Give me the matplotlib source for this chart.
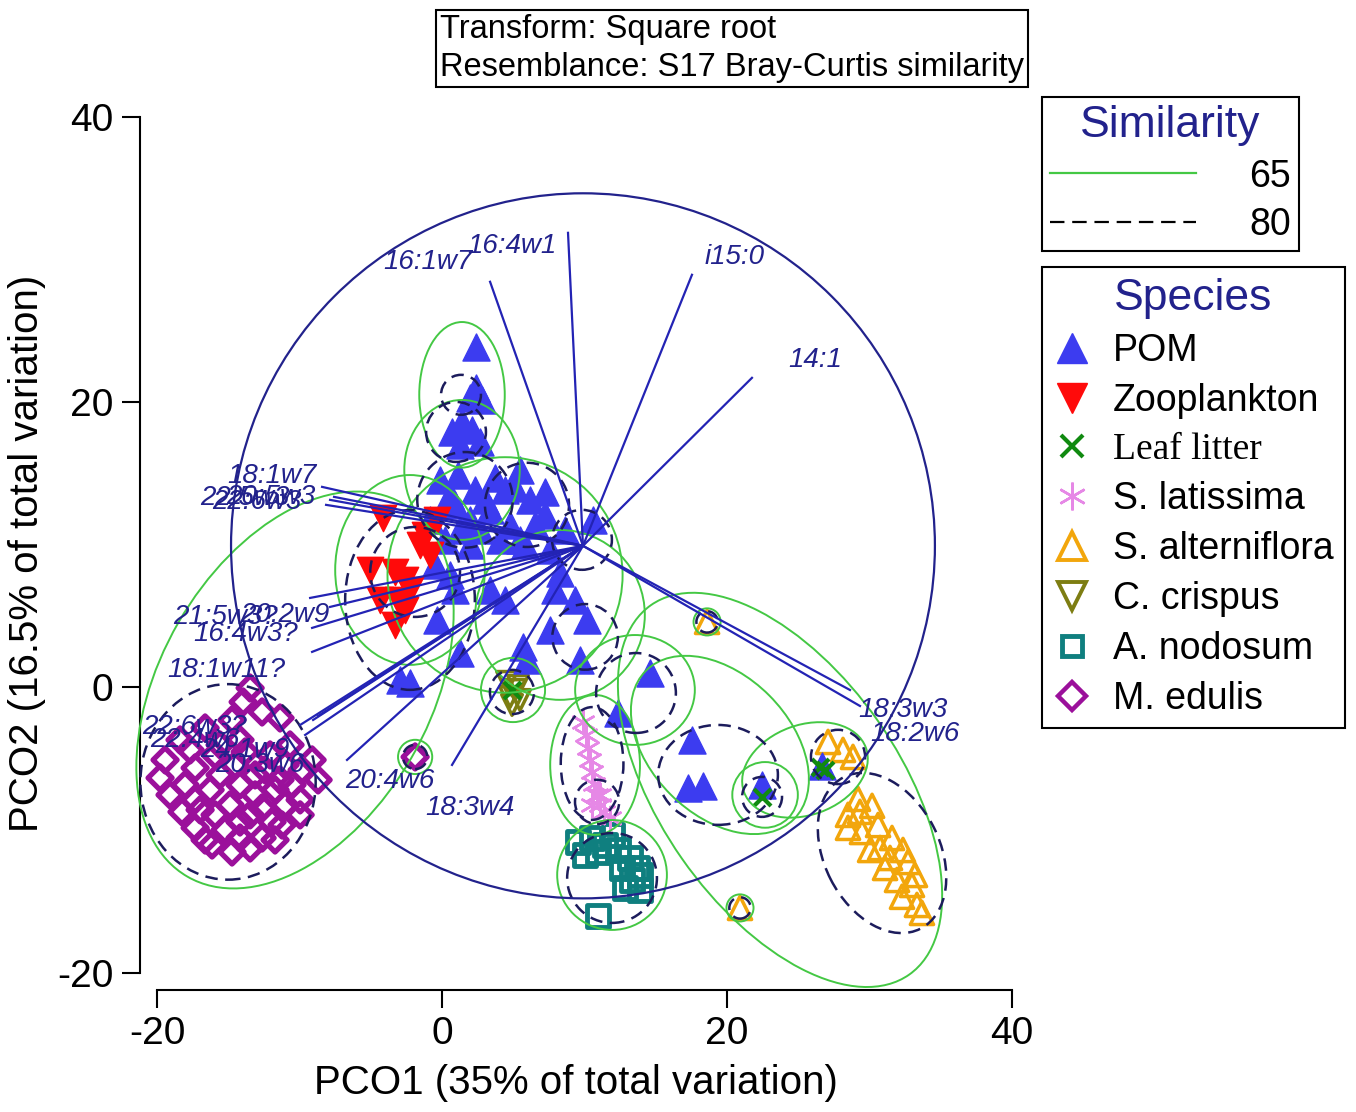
import matplotlib
matplotlib.use('Agg')
import matplotlib.pyplot as plt
from matplotlib.patches import Ellipse
from matplotlib.lines import Line2D

plt.rcParams['font.family'] = ['Liberation Sans', 'DejaVu Sans']
plt.rcParams['axes.unicode_minus'] = False

# ---- sample scores (PCO1, PCO2) ----
pom_x = [2.39, 2.39, 1.96, 2.81, 1.40, 0.70, 2.11, 1.26, 2.67,
         -0.14, 1.12, 2.32, 3.72, 5.12, 6.18, 7.23, 0.91, 1.96, 3.37, 4.77,
         -0.84, 0.21, 1.96, 4.07, 5.82, 7.58, 8.28, 10.6, 7.23, 5.47,
         0.56, 3.02, 4.42, 6.53, 2.67, 1.26, 5.47, 8.63, 7.93, 9.33, -0.49, 0.56,
         7.58, 5.68, 5.96, 10.18, 9.68, 1.26, -0.35, 0.91, -2.25, -2.95,
         14.6, 12.35, 17.54, 17.26, 18.32, 22.46, 26.67, 4.42, 3.37]
pom_y = [23.86, 20.99, 20.29, 20.15, 18.6, 17.9, 18.04, 17.0, 17.2,
         14.54, 14.9, 13.84, 14.68, 13.98, 13.14, 12.09, 12.79, 11.74, 12.44, 11.39,
         11.74, 10.34, 9.99, 10.34, 9.99, 9.64, 8.02, 11.74, 13.7, 15.24,
         13.49, 13.14, 13.84, 11.39, 11.04, 11.04, 10.34, 11.04, 6.83, 6.13, 8.58, 7.88,
         4.03, 2.84, 1.93, 4.73, 1.93, 2.42, 4.73, 6.83, 0.32, 0.53,
         1.02, -1.79, -3.68, -7.04, -6.9, -6.83, -5.5, 6.13, 6.83]

zoo_x = [-4.14, -5.05, -3.30, -2.60, -1.54, -0.84, -3.09, -2.25, -3.30, -2.60, -4.35, -0.35, -1.19]
zoo_y = [11.88, 8.23, 8.09, 7.53, 9.99, 9.29, 6.13, 6.83, 4.38, 5.43, 6.13, 11.74, 10.69]

leaf_x = [22.46, 26.53, 26.88, 4.91]
leaf_y = [-7.67, -5.57, -5.78, -0.18]

lat_x = [9.89, 10.11, 10.25, 10.39, 10.53, 10.67, 10.88, 11.09, 11.37, 11.79, 10.53, 11.09]
lat_y = [-2.42, -3.33, -4.24, -5.08, -5.92, -6.76, -7.53, -8.23, -8.72, -9.15, -8.23, -7.53]

alt_x = [29.19, 30.18, 28.49, 30.6, 29.47, 31.58, 32.35, 30.04, 32.7, 31.09,
         31.93, 32.98, 32.28, 33.33, 33.68, 28.49, 30.74, 31.44, 29.33, 33.19,
         27.09, 28.14, 28.84, 18.6, 20.91]
alt_y = [-7.81, -8.3, -8.93, -9.64, -10.13, -10.55, -11.39, -11.39, -12.23, -12.65,
         -13.49, -13.84, -14.67, -15.24, -15.8, -9.84, -11.25, -11.95, -8.72, -13.14,
         -3.82, -4.38, -4.87, 4.59, -15.45]

cri_x = [4.56, 5.12, 5.47, 4.77, 5.33, 4.91]
cri_y = [0.39, -0.18, -0.88, -0.67, 0.11, -1.23]

nod_x = [9.54, 10.53, 11.44, 12.35, 13.19, 13.68, 13.33, 12.84, 13.89, 10.95, 11.93, 10.04, 13.89, 10.95, 12.63]
nod_y = [-10.83, -10.55, -11.04, -11.39, -11.95, -12.65, -13.49, -14.05, -13.14, -11.53, -10.34, -11.74, -14.19, -16.01, -12.65]

edu_x = [-13.47, -13.96, -12.63, -11.37, -14.74, -16.63, -18.39, -19.44, -19.79, -19.09,
         -18.25, -17.33, -16.14, -14.74, -13.47, -12.63, -11.93, -11.02, -10.53, -9.82,
         -9.12, -8.70, -9.96, -11.72, -13.12, -14.53, -15.93, -17.33, -16.28, -14.88,
         -13.47, -15.23, -16.98, -12.07, -10.67, -14.18, -17.68, -13.12, -11.72, -14.18,
         -15.58, -13.82, -12.42, -11.02, -11.37, -14.18, -15.58, -18.04, -17.33, -15.93,
         -14.18, -12.63, -11.23, -9.96, -16.63, -1.89]
edu_y = [-0.04, -1.02, -1.72, -2.14, -2.28, -2.84, -3.68, -5.08, -6.34, -7.53,
         -8.72, -9.84, -11.04, -11.53, -11.25, -10.55, -9.43, -8.23, -6.83, -5.78,
         -5.08, -6.48, -7.88, -7.18, -6.13, -5.43, -4.73, -5.64, -7.18, -8.23,
         -8.93, -9.99, -8.58, -4.73, -4.03, -3.68, -4.38, -7.53, -10.69, -10.55,
         -4.03, -4.52, -5.78, -5.43, -6.48, -6.83, -6.13, -6.83, -7.88, -8.93,
         -9.43, -8.44, -9.64, -8.93, -10.69, -4.87]

# ---- similarity contours (centre x, centre y, width, height, angle) ----
s65_x = [1.40, 1.40, 4.42, -2.25, -10.32, -1.89, 4.98, 8.28, 10.74, 11.93, 13.54, 19.5, 22.67, 25.47, 23.72, 18.6, 20.91]
s65_y = [20.5, 15.24, 7.88, 8.23, -0.18, -4.87, -0.18, 5.08, -5.43, -13.14, -0.18, -4.03, -7.53, -5.78, -7.18, 4.59, -15.45]
s65_w = [6.0, 8.1, 16.5, 10.5, 30.2, 2.4, 4.5, 11.9, 6.3, 7.7, 8.4, 14.7, 4.6, 9.1, 31.6, 1.9, 1.9]
s65_h = [10.2, 9.8, 16.5, 13.3, 18.9, 2.4, 4.5, 11.9, 9.8, 7.7, 7.7, 9.8, 4.6, 6.3, 16.8, 1.9, 1.9]
s65_a = [0, 0, 0, 0, 60, 0, 0, 0, 0, 0, 0, -45, 0, 20, -55, 0, 0]

s80_x = [1.33, 0.98, 1.61, 5.96, 9.82, -2.25, -1.89, -15.02, -1.89, 4.91, 10.53, 10.88, 11.93, 13.61, 19.37, 22.46, 27.79, 30.88, 10.04, 18.6, 20.91]
s80_y = [20.5, 17.9, 13.14, 12.79, 10.34, 6.13, 8.09, -6.62, -4.87, -0.32, -5.33, -8.02, -13.35, -0.39, -6.13, -7.67, -4.87, -11.6, 3.54, 4.59, -15.45]
s80_w = [2.8, 4.2, 6.7, 5.9, 4.2, 9.1, 6.3, 12.3, 1.7, 3.1, 4.4, 3.1, 6.3, 5.6, 8.4, 2.8, 3.8, 11.9, 4.6, 1.5, 1.5]
s80_h = [2.8, 4.2, 6.7, 5.9, 4.2, 12.6, 6.3, 13.7, 1.7, 3.1, 7.9, 3.1, 6.3, 5.6, 7.0, 2.8, 3.8, 8.1, 4.6, 1.5, 1.5]
s80_a = [0, 0, 0, 0, 0, 0, 0, 0, 0, 0, 0, 0, 0, 0, 0, 0, 0, -63, 0, 0, 0]

# ---- vector overlay ----
vec_origin = (9.89, 9.92)
vec_radius = 24.7
vec_names = ['16:4w1', '16:1w7', 'i15:0', '14:1', '18:3w3', '18:2w6', '18:1w7',
             '22:5w3', '22:6w3', '20:5w3', '21:5w3?', '20:2w9', '16:4w3?', '18:1w11?',
             '22:6w3?', '22:4w6', '24:1w9', '20:3w6', '20:4w6', '18:3w4']
vec_x = [8.84, 3.37, 17.54, 21.75, 28.63, 29.33, -8.42, -7.86, -8.14, -7.58,
         -9.26, -7.86, -9.12, -9.12, -8.70, -9.05, -9.96, -9.61, -6.67, 0.70]
vec_y = [31.85, 28.42, 28.91, 21.69, -0.18, -1.30, 14.05, 13.14, 12.79, 13.35,
         6.27, 5.64, 4.17, 2.49, -2.00, -2.28, -2.63, -3.33, -5.08, -5.43]
lab_x = [4.91, -0.98, 20.56, 26.18, 29.19, 30.04, -11.93, -16.98, -16.14, -15.16,
         -18.88, -14.18, -17.47, -19.3, -21.05, -20.49, -16.98, -15.93, -6.81, 1.96]
lab_y = [30.94, 29.82, 30.17, 22.95, -1.58, -3.26, 14.82, 13.28, 13.0, 13.35,
         4.94, 5.08, 3.75, 1.23, -2.77, -3.68, -4.38, -5.43, -6.55, -8.44]
lab_ha = ['center', 'center', 'center', 'center', 'left', 'left', 'center',
          'left', 'left', 'left', 'left', 'left', 'left', 'left',
          'left', 'left', 'left', 'left', 'left', 'center']

navy = '#22228c'
green = '#44c844'

fig = plt.figure(figsize=(13.56, 11.12), dpi=100)
fig.set_facecolor('white')
ax = fig.add_axes([0.10324, 0.10971, 0.64307, 0.78552])
ax.set_xlim(-21.2, 40)
ax.set_ylim(-21.2, 40)

# species groups
ax.scatter(edu_x, edu_y, marker='D', s=150, facecolors='none', edgecolors='#9b109b', linewidths=3.8, zorder=2)
ax.scatter(nod_x, nod_y, marker='s', s=250, facecolors='none', edgecolors='#0f7f7f', linewidths=3.5, zorder=2)
ax.scatter(alt_x, alt_y, marker='^', s=280, facecolors='none', edgecolors='#f2a60c', linewidths=2.5, zorder=2)
ax.scatter(cri_x, cri_y, marker='v', s=220, facecolors='none', edgecolors='#7d7d12', linewidths=2.5, zorder=2)
ax.scatter(lat_x, lat_y, marker=(6, 2, 0), s=280, color='#e688e6', linewidths=1.8, zorder=2)
ax.scatter(pom_x, pom_y, marker='^', s=380, color='#3c3cf0', edgecolors='#3c3cf0', linewidths=1, zorder=2)
ax.scatter(zoo_x, zoo_y, marker='v', s=360, color='#ff0a0a', edgecolors='#ff0a0a', linewidths=1, zorder=2.1)
ax.scatter(leaf_x, leaf_y, marker='x', s=150, color='#108a10', linewidths=3, zorder=2.2)

# similarity contours
for x, y, w, h, a in zip(s65_x, s65_y, s65_w, s65_h, s65_a):
    ax.add_patch(Ellipse((x, y), w, h, angle=a, fill=False, ec=green, lw=1.4, zorder=3, clip_on=False))
for x, y, w, h, a in zip(s80_x, s80_y, s80_w, s80_h, s80_a):
    ax.add_patch(Ellipse((x, y), w, h, angle=a, fill=False, ec='#1c1c5c', lw=1.8,
                         ls=(0, (5, 3)), zorder=3, clip_on=False))

# vectors and circle
ax.add_patch(Ellipse(vec_origin, 2 * vec_radius, 2 * vec_radius, fill=False, ec=navy, lw=1.6, zorder=4))
for name, x, y, lx, ly, ha in zip(vec_names, vec_x, vec_y, lab_x, lab_y, lab_ha):
    ax.plot([vec_origin[0], x], [vec_origin[1], y], color='#2323b4', lw=1.6, zorder=4)
    ax.text(lx, ly, name, fontsize=20, style='italic', color=navy, ha=ha, va='center',
            zorder=5, clip_on=False)

# axes
for side in ['top', 'right']:
    ax.spines[side].set_visible(False)
for side in ['left', 'bottom']:
    ax.spines[side].set_bounds(-20, 40)
    ax.spines[side].set_linewidth(1.5)
ax.set_xticks([-20, 0, 20, 40])
ax.set_yticks([-20, 0, 20, 40])
ax.tick_params(direction='out', length=13, width=1.5, labelsize=28, pad=6)
ax.set_xlabel('PCO1 (35% of total variation)', fontsize=29, labelpad=8)
ax.set_ylabel('PCO2 (16.5% of total variation)', fontsize=29, labelpad=8)

fig.text(0.3245, 0.9874, 'Transform: Square root\nResemblance: S17 Bray-Curtis similarity',
         fontsize=23.5, ha='left', va='top', linespacing=1.3,
         bbox=dict(boxstyle='square,pad=0.12', fc='white', ec='black', lw=1.5))

# legends
sim_handles = [Line2D([], [], color=green, lw=1.6),
               Line2D([], [], color='black', lw=1.6, ls=(0, (6.5, 3.5)))]
leg1 = fig.legend(sim_handles, ['65', '80'], title='Similarity', loc='upper left',
                  bbox_to_anchor=(0.7684, 0.9128), borderaxespad=0, fontsize=27,
                  title_fontsize=32, handlelength=3.9, handletextpad=1.4,
                  fancybox=False, edgecolor='black', framealpha=1, labelspacing=0.33,
                  borderpad=0.22)
leg1.get_frame().set_linewidth(1.5)
leg1.get_title().set_color(navy)

sp_names = ['POM', 'Zooplankton', 'Leaf litter', 'S. latissima', 'S. alterniflora',
            'C. crispus', 'A. nodosum', 'M. edulis']
sp_handles = [
    Line2D([], [], ls='None', marker='^', ms=21, color='#3c3cf0'),
    Line2D([], [], ls='None', marker='v', ms=21, color='#ff0a0a'),
    Line2D([], [], ls='None', marker='x', ms=16, color='#108a10', mew=3),
    Line2D([], [], ls='None', marker=(6, 2, 0), ms=20, color='#e688e6', mew=1.8),
    Line2D([], [], ls='None', marker='^', ms=20, mfc='none', mec='#f2a60c', mew=2.8),
    Line2D([], [], ls='None', marker='v', ms=20, mfc='none', mec='#7d7d12', mew=2.8),
    Line2D([], [], ls='None', marker='s', ms=15, mfc='none', mec='#0f7f7f', mew=3.5),
    Line2D([], [], ls='None', marker='D', ms=14, mfc='none', mec='#9b109b', mew=3.2),
]
leg2 = fig.legend(sp_handles, sp_names, title='Species', loc='upper left',
                  bbox_to_anchor=(0.7684, 0.7599), borderaxespad=0, fontsize=27,
                  title_fontsize=32, handlelength=1.0, handletextpad=0.6,
                  fancybox=False, edgecolor='black', framealpha=1, labelspacing=0.37,
                  borderpad=0.3)
leg2.get_frame().set_linewidth(1.5)
leg2.get_title().set_color(navy)
leg2.get_texts()[2].set_fontfamily('Liberation Serif')

fig.savefig('out.png', dpi=100)
